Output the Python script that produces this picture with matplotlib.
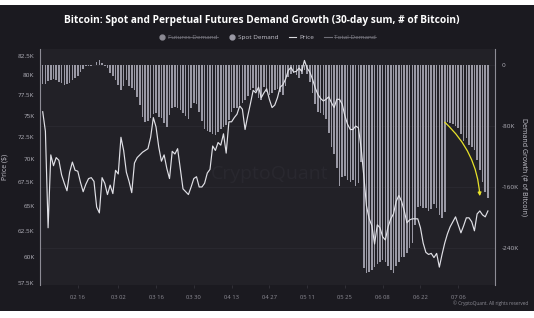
import numpy as np
import pandas as pd
import matplotlib as mpl
mpl.use('Agg')
import matplotlib.pyplot as plt
import matplotlib.dates as mdates
from matplotlib.lines import Line2D
from matplotlib.patches import Rectangle
from matplotlib.ticker import FixedLocator, FuncFormatter, NullLocator

#----- DATA -----
start_date = '2024-02-03'

# Spot demand growth, 30-day sum, thousands of BTC (one value per day)
spot_demand = [
    -25, -25, -21, -20, -18, -20, -22, -24, -26, -25,
    -24, -20, -17, -14, -9, -5, -1.5, -1, -1.5, -0.5,
    4, 7, 3, -1.5, -4, -10, -14, -20, -26, -33,
    -28, -20, -28, -30, -33, -42, -52, -68, -75, -73,
    -69, -64, -63, -68, -69, -76, -81, -66, -56, -55,
    -56, -59, -63, -67, -71, -56, -50, -51, -62, -73,
    -84, -87, -88, -90, -92, -88, -84, -81, -79, -72,
    -62, -56, -56, -52, -50, -46, -41, -33, -30, -34,
    -43, -46, -29, -35, -39, -37, -33, -31, -35, -39,
    -28, -16, -12, -10, -13, -17, -12, -7, -12, -22,
    -37, -51, -62, -63, -66, -71, -89, -108, -117, -135,
    -159, -147, -146, -151, -153, -151, -159, -155, -127, -266,
    -273, -271, -269, -265, -261, -258, -256, -258, -264, -269,
    -273, -264, -258, -252, -252, -246, -240, -233, -210, -186,
    -185, -187, -187, -191, -189, -182, -187, -197, -201, -193,
    -75, -76, -77, -80, -83, -90, -100, -96, -105, -108,
    -111, -125, -138, -153, -166, -174,
]

# BTC price, thousands of USD
price = [
    75.5, 73.2, 62.8, 70.5, 69.3, 70.2, 69.9, 68.3, 67.4, 66.6,
    68.6, 69.7, 68.8, 68.7, 67.5, 66.5, 67.3, 67.9, 68.0, 67.6,
    64.9, 64.3, 68.0, 67.4, 66.2, 67.2, 66.3, 68.8, 68.4, 72.5,
    71.0, 68.6, 67.6, 66.4, 69.6, 70.2, 70.5, 70.8, 71.0, 71.2,
    72.5, 74.8, 73.7, 71.4, 69.8, 70.5, 69.0, 67.9, 70.9, 70.6,
    71.2, 69.0, 66.8, 66.5, 66.2, 67.0, 67.9, 68.1, 67.0, 67.0,
    67.4, 68.5, 68.9, 71.5, 71.0, 71.9, 71.6, 72.9, 70.7, 74.3,
    74.3, 74.8, 75.2, 76.2, 75.8, 73.4, 75.0, 76.5, 78.1, 77.8,
    78.5, 77.2, 77.8, 78.3, 77.0, 76.0, 76.3, 77.2, 78.5, 78.8,
    79.5, 80.6, 81.0, 80.4, 80.5, 80.9, 80.5, 81.9, 80.9, 80.4,
    79.5, 78.4, 77.6, 77.1, 76.8, 77.0, 77.3, 76.6, 76.0, 77.0,
    77.0, 76.4, 75.0, 74.0, 73.4, 73.4, 73.8, 73.6, 71.3, 68.2,
    65.0, 63.7, 63.0, 61.2, 63.1, 62.8, 61.9, 61.6, 62.9, 63.7,
    64.2, 65.5, 66.1, 65.5, 64.5, 63.3, 63.6, 63.7, 63.7, 63.7,
    62.8, 61.3, 60.4, 60.2, 60.3, 59.9, 60.3, 59.0, 60.2, 61.3,
    62.2, 62.9, 63.4, 63.9, 63.1, 62.3, 63.0, 63.8, 63.8, 63.4,
    62.5, 64.2, 64.5, 64.1, 63.9, 64.5,
]

price_ticks = [57.5, 60, 62.5, 65, 67.5, 70, 72.5, 75, 77.5, 80, 82.5]
demand_ticks = [0, -80, -160, -240]
date_ticks = ['2024-02-16', '2024-03-02', '2024-03-16', '2024-03-30', '2024-04-13',
              '2024-04-27', '2024-05-11', '2024-05-25', '2024-06-08', '2024-06-22',
              '2024-07-06']

title = 'Bitcoin: Spot and Perpetual Futures Demand Growth (30-day sum, # of Bitcoin)'
legend_labels = ['Futures Demand', 'Spot Demand', 'Price', 'Total Demand']

#----- FIGURE -----
plt.rcParams['font.family'] = ['Open Sans', 'DejaVu Sans']

dates = pd.date_range(start_date, periods=len(price), freq='D')

card = '#1b1a20'
panel = '#222127'
bar_col = '#9a99a5'
txt = '#b4b3bc'

fig = plt.figure(figsize=(5.34, 3.18), dpi=100, facecolor='white')
fig.patches.append(Rectangle((0, 7/318), 1, 306/318, transform=fig.transFigure,
                             facecolor=card, edgecolor='none', zorder=-10))

W, H = 534.0, 318.0
ax = fig.add_axes([40/W, 1-285/H, 455/W, 236/H])
ax2 = ax.twinx()

ax2.bar(dates, spot_demand, width=0.58, color=bar_col, linewidth=0, zorder=2)
ax.plot(dates, price, color='#e0e0e6', lw=0.85, zorder=3)

ax.set_zorder(ax2.get_zorder() + 1)
ax.patch.set_visible(False)
ax2.patch.set_visible(True)
ax2.set_facecolor(panel)

ax.set_yscale('log')
ax.set_ylim(57.35, 83.4)
ax.yaxis.set_major_locator(FixedLocator(price_ticks))
ax.yaxis.set_minor_locator(NullLocator())
ax.yaxis.set_major_formatter(FuncFormatter(lambda v, p: ('%gK' % v)))
ax2.set_ylim(-288.5, 21)
ax2.yaxis.set_major_locator(FixedLocator(demand_ticks))
ax2.yaxis.set_major_formatter(FuncFormatter(lambda v, p: ('0' if v == 0 else '%dK' % v)))
ax2.grid(axis='y', color='#2b2a31', lw=0.6, zorder=0)
ax2.set_axisbelow(True)

ax.set_xlim(pd.Timestamp('2024-02-02'), pd.Timestamp('2024-07-19 15:00'))
ax.xaxis.set_major_locator(FixedLocator(mdates.date2num(pd.to_datetime(date_ticks))))
ax.xaxis.set_major_formatter(mdates.DateFormatter('%m %d'))

for a in (ax, ax2):
    for s in a.spines.values():
        s.set_visible(False)
    a.tick_params(colors=txt, labelsize=4.6, length=0, pad=4)
ax.tick_params(axis='x', colors='#3a3940', labelcolor='#8d8c95', labelsize=4.2,
               length=2, width=0.5, pad=5)
ax.spines['left'].set_visible(True)
ax.spines['left'].set_color('#8d8c95')
ax.spines['left'].set_linewidth(0.8)
ax2.spines['right'].set_visible(True)
ax2.spines['right'].set_color('#8d8c95')
ax2.spines['right'].set_linewidth(0.8)
ax2.tick_params(axis='y', pad=5)

ax.set_ylabel('Price ($)', color='#c4c3cc', fontsize=5, labelpad=7)
ax2.set_ylabel('Demand Growth (# of Bitcoin)', color='#c4c3cc', fontsize=5,
               rotation=270, labelpad=6)

# watermark
ax.text(0.505, 0.47, 'CryptoQuant', transform=ax.transAxes, ha='center', va='center',
        fontsize=14, color='#29282f', zorder=1)

# yellow arrow
ax2.annotate('', xy=(pd.Timestamp('2024-07-14'), -172), xytext=(pd.Timestamp('2024-07-01'), -75),
             arrowprops=dict(arrowstyle='-|>', color='#e8e22a', lw=0.9,
                             connectionstyle='arc3,rad=-0.2', mutation_scale=5,
                             shrinkA=0, shrinkB=0), zorder=5)

fig.text(262/W, 1-20/H, title, ha='center', va='center', color='white',
         fontsize=7.3, fontweight='bold')

handles = [
    Line2D([], [], marker='o', ls='none', color='#8b8a93', markersize=3.5),
    Line2D([], [], marker='o', ls='none', color=bar_col, markersize=3.5),
    Line2D([], [], color='#d8d8dc', lw=0.8),
    Line2D([], [], color='#6f6e77', lw=0.8),
]
leg = fig.legend(handles, legend_labels, loc='center', bbox_to_anchor=(0.5, 1-37/H),
                 ncol=4, frameon=False, fontsize=4.6, handlelength=1.2,
                 handletextpad=0.4, columnspacing=1.6)
leg_cols = ['#77767f', '#c4c3cc', '#c4c3cc', '#77767f']
for t, c in zip(leg.get_texts(), leg_cols):
    t.set_color(c)

fig.canvas.draw()
rend = fig.canvas.get_renderer()
for i in (0, 3):
    bb = leg.get_texts()[i].get_window_extent(rend).transformed(fig.transFigure.inverted())
    ym = (bb.y0 + bb.y1) / 2
    fig.add_artist(Line2D([bb.x0, bb.x1], [ym, ym], transform=fig.transFigure,
                          color='#77767f', lw=0.5))

fig.text(528/W, 1-303/H, '\u00a9 CryptoQuant. All rights reserved', ha='right', va='center',
         color='#8d8c95', fontsize=3.4)

fig.savefig('out.png', dpi=100, facecolor='white')
plt.close(fig)
